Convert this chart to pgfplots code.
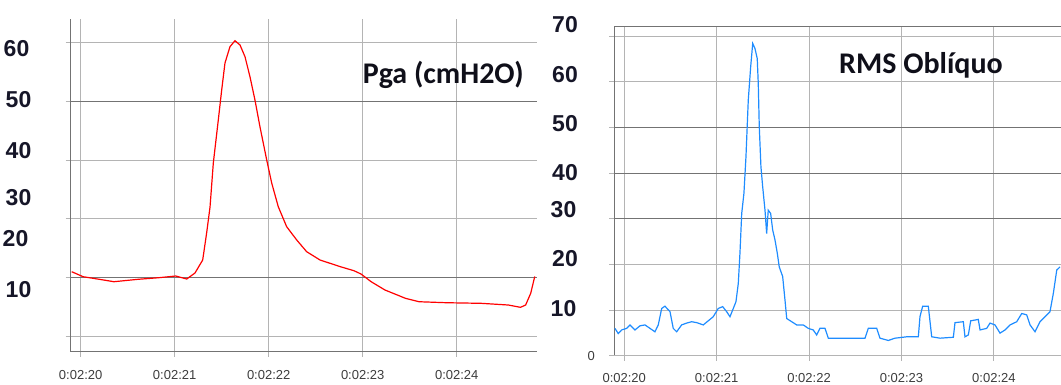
\documentclass[border=0pt]{standalone}
\usepackage{pgfplots}
\pgfplotsset{compat=1.18}
\usepackage{fontspec}
\setmainfont{Liberation Sans}
\newfontfamily\carlito{Carlito}
\definecolor{gridlight}{RGB}{180,180,180}
\definecolor{griddark}{RGB}{115,115,115}
\definecolor{labnavy}{RGB}{22,22,40}
\definecolor{xlab}{RGB}{60,60,60}
\definecolor{rmsblue}{RGB}{30,140,255}
\newcommand\rl[3]{\mbox{\raisebox{#1}[\height][\depth]{#3}\hspace*{#2}}}
\pgfplotsset{
  panel/.style={
    scale only axis, anchor=south west,
    axis x line*=bottom, axis y line*=left,
    axis line style={-, griddark, line width=1pt},
    every outer x axis line/.append style={-},
    every outer y axis line/.append style={-},
    grid=major, major grid style={gridlight, line width=1pt},
    tick align=outside, major tick length=5pt,
    tick style={gridlight, line width=1pt},
    xtick={20,21,22,23,24},
    xticklabels={0:02:20,0:02:21,0:02:22,0:02:23,0:02:24},
    xticklabel style={font=\fontsize{13}{13}\selectfont, text=xlab, anchor=center},
    yticklabel style={font=\fontsize{23}{23}\selectfont\bfseries, text=labnavy, anchor=east, inner sep=0pt},
    clip=false,
  }
}
\begin{document}
\begin{tikzpicture}
\path[use as bounding box] (0pt,0pt) rectangle (1061pt,385pt);
% ---------- left panel: Pga ----------
\begin{axis}[panel,
  at={(70.7pt,33.3pt)}, width=466.3pt, height=332.7pt,
  xmin=19.894, xmax=24.854, ymin=7.43, ymax=63.96,
  ytick={10,20,30,40,50,60},
  yticklabels={\rl{46.7pt}{0pt}{10},\rl{39.4pt}{3pt}{20},\rl{21pt}{0pt}{30},\rl{9pt}{0pt}{40},\rl{2pt}{0pt}{50},\rl{-6pt}{2pt}{60}},
  yticklabel style={xshift=-34.2pt},
  xticklabel style={yshift=-18.3pt},
]
\draw[griddark, line width=1pt] (axis cs:19.894,50) -- (axis cs:24.854,50);
\draw[griddark, line width=1pt] (axis cs:19.894,20) -- (axis cs:24.854,20);
\addplot[red, line width=1.2pt] coordinates {
(19.905,21.02) (20.026,20.17) (20.245,19.61) (20.354,19.32) (20.610,19.73)
(20.829,20.00) (21.011,20.29) (21.128,19.78) (21.216,20.80) (21.298,23.01)
(21.340,27.60) (21.376,32.01) (21.411,39.49) (21.464,46.80) (21.500,51.89)
(21.535,56.48) (21.588,59.25) (21.641,60.27) (21.695,59.54) (21.748,57.55)
(21.801,54.15) (21.854,50.20) (21.907,45.66) (21.979,40.00) (22.032,36.09)
(22.102,32.06) (22.191,28.67) (22.298,26.41) (22.404,24.42) (22.546,23.01)
(22.763,21.87) (22.907,21.19) (22.982,20.63) (23.090,19.32) (23.237,17.91)
(23.455,16.50) (23.599,15.92) (23.894,15.75) (24.259,15.65) (24.550,15.36)
(24.678,14.97) (24.733,15.36) (24.787,17.35) (24.830,20.20)
};
\end{axis}
\node[anchor=base west, inner sep=0pt, font=\fontsize{30}{30}\selectfont\carlito\bfseries, text={rgb,255:red,15;green,15;blue,25}] at (362.6pt,301.7pt) {Pga (cmH2O)};
% ---------- right panel: RMS ----------
\begin{axis}[panel,
  at={(614pt,29pt)}, width=447pt, height=329.3pt,
  xmin=19.889, xmax=24.726, ymin=0, ymax=72.06,
  ytick={10,20,30,40,50,60,70},
  yticklabels={\rl{1.7pt}{1.5pt}{10},\rl{5.7pt}{0pt}{20},\rl{9.3pt}{1.5pt}{30},\rl{1pt}{0pt}{40},\rl{4.3pt}{0pt}{50},\rl{7.7pt}{0pt}{60},\rl{12pt}{0pt}{70}},
  yticklabel style={xshift=-31pt},
  xticklabel style={yshift=-16.8pt},
  extra y ticks={0}, extra y tick labels={0},
  extra y tick style={yticklabel style={font=\fontsize{13}{13}\selectfont\mdseries, text=xlab, xshift=17pt}},
]
\draw[griddark, line width=1pt] (axis cs:19.889,50) -- (axis cs:24.726,50);
\draw[griddark, line width=1pt] (axis cs:19.889,40) -- (axis cs:24.726,40);
\draw[griddark, line width=1pt] (axis cs:19.889,30) -- (axis cs:24.726,30);
\draw[griddark, line width=1pt] (axis cs:19.889,72.06) -- (axis cs:24.726,72.06);
\addplot[rmsblue, line width=1.2pt] coordinates {
(19.899,6.05) (19.935,4.9) (19.972,5.7) (20.026,6.05) (20.062,6.8)
(20.116,5.7) (20.170,6.6) (20.224,6.8) (20.278,6.05) (20.332,5.3)
(20.368,6.8) (20.405,10.4) (20.440,10.9) (20.495,9.7) (20.530,6.05)
(20.567,5.3) (20.621,6.8) (20.675,7.2) (20.729,7.5) (20.784,7.3)
(20.855,6.8) (20.909,7.7) (20.963,8.6) (21.017,10.4) (21.065,10.8)
(21.108,9.7) (21.144,8.6) (21.180,10.4) (21.209,11.9) (21.234,15.9)
(21.252,22.5) (21.271,31.2) (21.295,35.6) (21.317,43.6) (21.342,56.0)
(21.368,63.3) (21.390,68.4) (21.414,67.3) (21.439,65.1) (21.450,59.7)
(21.461,50.2) (21.479,41.4) (21.498,37.0) (21.523,31.9) (21.541,26.8)
(21.558,31.9) (21.584,31.2) (21.606,27.6) (21.631,25.4) (21.656,22.5)
(21.677,19.5) (21.714,17.4) (21.739,12.3) (21.758,8.2) (21.812,7.5)
(21.866,6.8) (21.937,6.8) (21.991,6.05) (22.045,5.7) (22.082,4.6)
(22.118,6.05) (22.172,6.05) (22.208,3.9) (22.335,3.9) (22.478,3.9)
(22.605,3.9) (22.641,6.05) (22.732,6.05) (22.767,3.9) (22.857,3.4)
(22.930,3.9) (23.056,4.2) (23.182,4.2) (23.200,8.6) (23.229,10.9)
(23.290,10.9) (23.327,4.2) (23.417,3.9) (23.561,4.1) (23.579,7.3)
(23.669,7.5) (23.687,4.2) (23.723,4.6) (23.749,7.7) (23.831,8.0)
(23.850,5.7) (23.922,6.05) (23.958,7.2) (24.012,6.8) (24.066,5.0)
(24.120,5.7) (24.174,6.8) (24.247,7.5) (24.301,9.3) (24.355,9.0)
(24.391,6.8) (24.445,5.3) (24.499,7.5) (24.553,8.6) (24.607,9.7)
(24.643,13.7) (24.680,18.8) (24.715,19.5)
};
\end{axis}
\node[anchor=base west, inner sep=0pt, font=\fontsize{30}{30}\selectfont\carlito\bfseries, text={rgb,255:red,15;green,15;blue,25}] at (839pt,311pt) {RMS Oblíquo};
\end{tikzpicture}
\end{document}
